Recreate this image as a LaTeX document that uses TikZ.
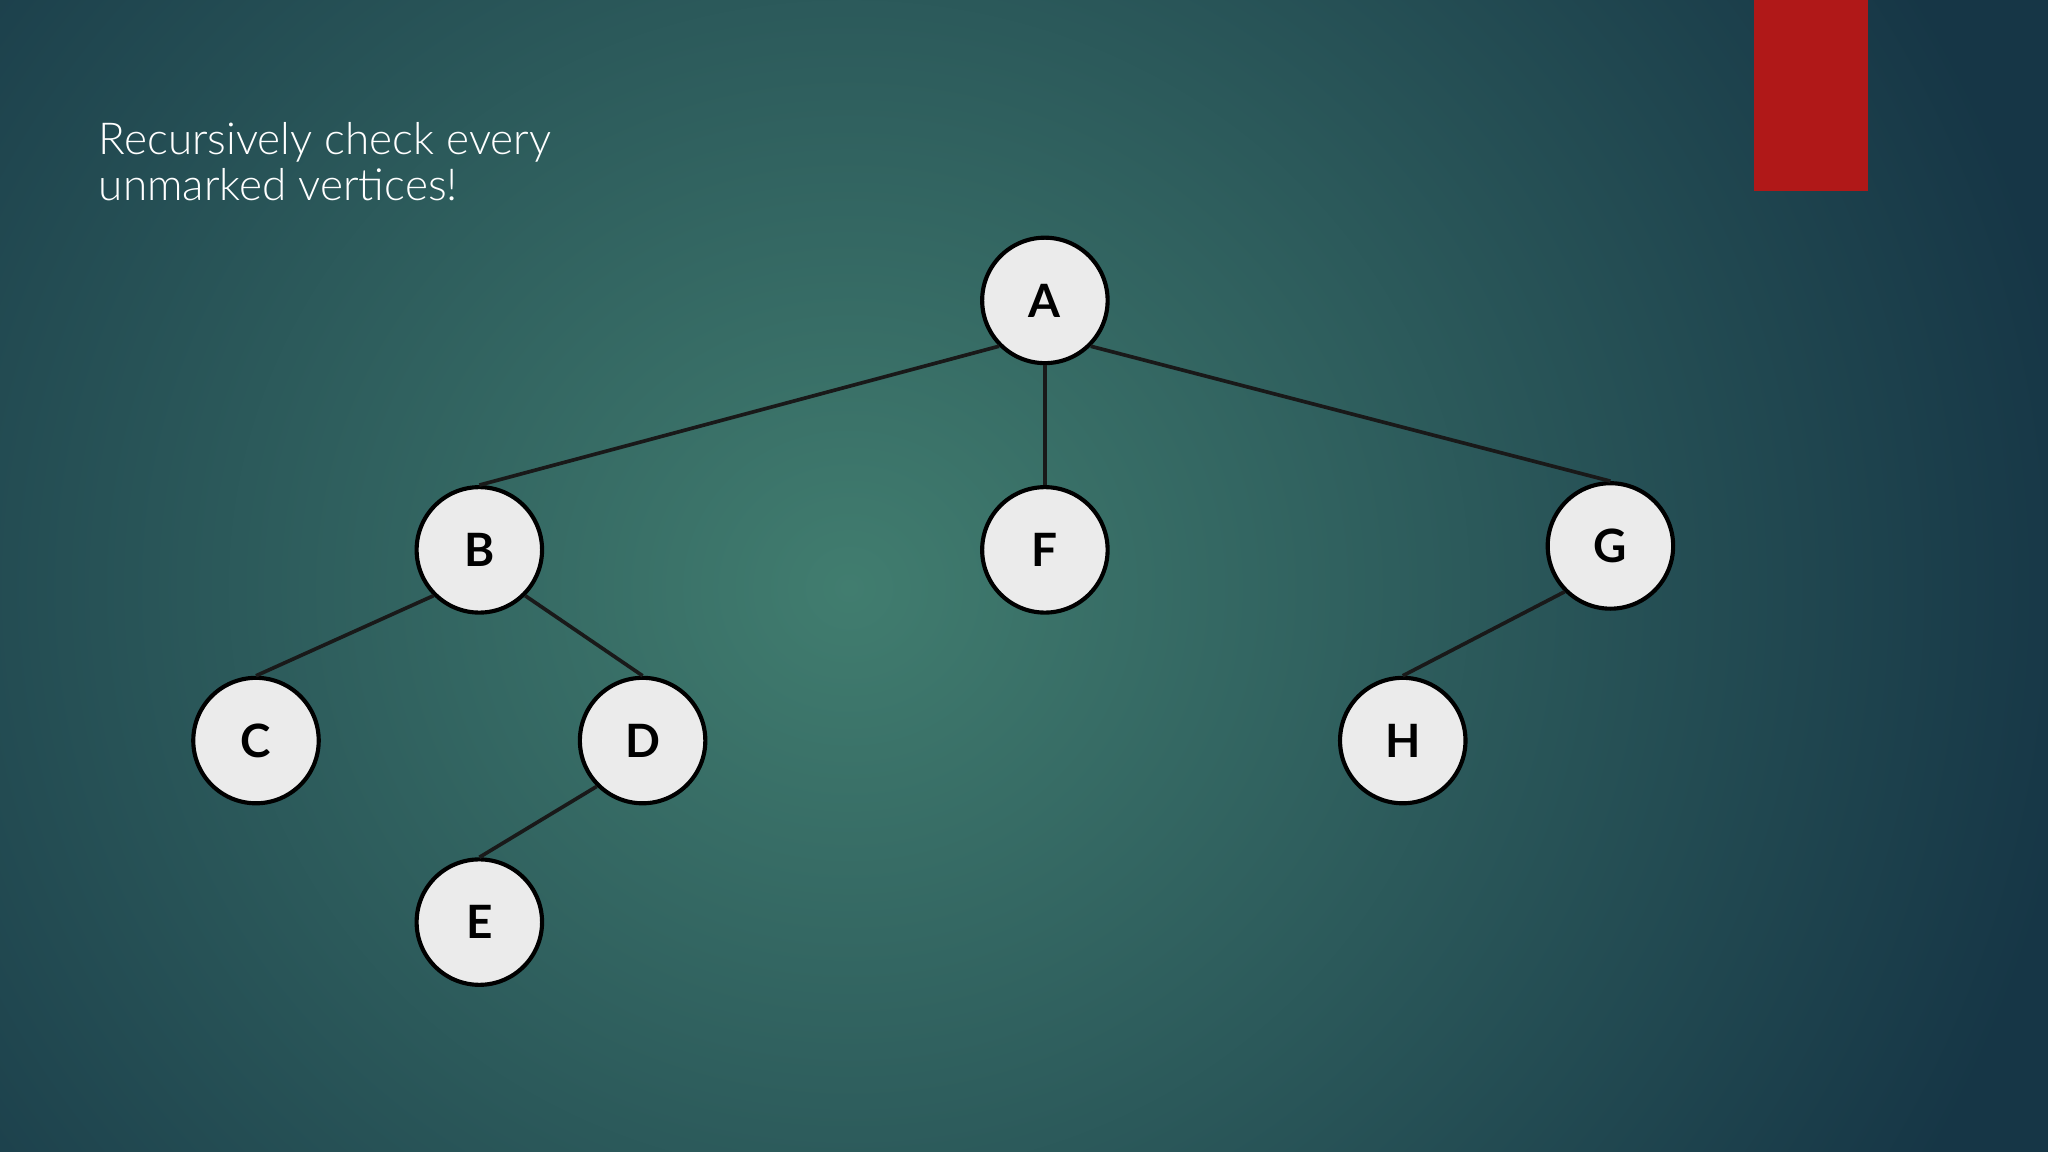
\documentclass[tikz,border=0pt]{standalone}
\usepackage{fontspec}
\setmainfont{Lato}
\definecolor{bgin}{HTML}{417D6F}
\definecolor{bgout}{HTML}{163646}
\definecolor{nodefill}{HTML}{EBEBEB}
\definecolor{redbar}{HTML}{B01818}
\tikzset{vert/.style={circle,draw=black,line width=0.9pt,fill=nodefill,minimum size=0.96cm,inner sep=0pt,font=\fontsize{10}{12}\selectfont\bfseries},
edge/.style={draw=black!90,line width=0.8pt}}
\begin{document}
\begin{tikzpicture}[x=0.01cm,y=-0.01cm]
\useasboundingbox (0,0) rectangle (1568,882);
\shade[inner color=bgin,outer color=bgout] (-300,-450) rectangle (1600,1350);
\fill[redbar] (1343,0) rectangle (1430,146);
\node[anchor=north west,align=left,text=white,inner sep=0pt,font=\fontsize{9.6}{10}\selectfont\fontspec{Lato Light}] (t) at (75,93) {Recursively check every\\unmarked vertices!};
\node[vert] (a) at (800,230) {A};
\node[vert] (b) at (367,421) {B};
\node[vert] (f) at (800,421) {F};
\node[vert] (g) at (1233,418) {G};
\node[vert] (c) at (196,567) {C};
\node[vert] (d) at (492,567) {D};
\node[vert] (h) at (1074,567) {H};
\node[vert] (e) at (367,706) {E};
\draw[edge] (a.225) -- (b.north);
\draw[edge] (a) -- (f);
\draw[edge] (a.-45) -- (g.north);
\draw[edge] (b.225) -- (c.north);
\draw[edge] (b.-45) -- (d.north);
\draw[edge] (d.225) -- (e.north);
\draw[edge] (g.225) -- (h.north);
\end{tikzpicture}
\end{document}
